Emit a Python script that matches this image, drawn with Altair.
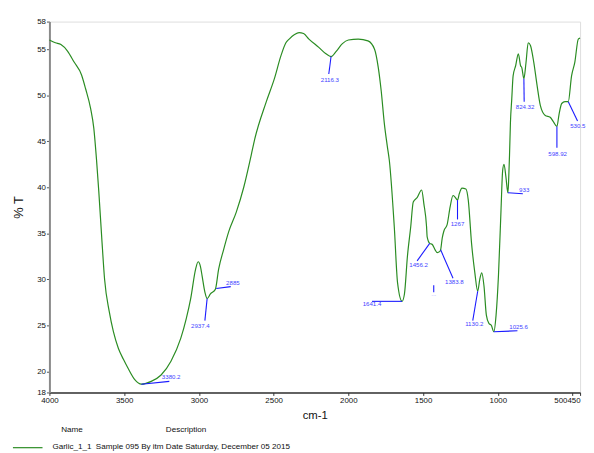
import altair as alt
import pandas as pd

# ---- spectrum (wavenumber cm-1, %T) ----
wavenumber = [4000, 3960, 3923, 3879, 3835, 3785, 3758, 3725, 3703, 3685, 3670, 3650, 3631, 3600,
              3572, 3539, 3505, 3473, 3429, 3385, 3319, 3253, 3187, 3121, 3085, 3055, 3022, 3005,
              2990, 2979, 2960, 2945, 2923, 2890, 2868, 2835, 2800, 2750, 2700, 2650, 2627, 2549,
              2495, 2451, 2418, 2396, 2360, 2330, 2300, 2264, 2198, 2150, 2116, 2080, 2040, 2000,
              1934, 1869, 1825, 1800, 1780, 1760, 1740, 1726, 1693, 1671, 1641, 1625, 1605, 1583,
              1566, 1539, 1510, 1495, 1477, 1473, 1456, 1440, 1420, 1405, 1390, 1383, 1372, 1360,
              1340, 1319, 1300, 1285, 1270, 1258, 1240, 1214, 1198, 1176, 1154, 1135, 1121, 1108,
              1093, 1077, 1060, 1044, 1027, 1012, 996, 979, 968, 959, 946, 933, 928, 922, 916, 907,
              898, 881, 863, 848, 840, 826, 812, 797, 782, 760, 738, 716, 683, 650, 628, 605, 591,
              573, 551, 529, 507, 485, 462, 450]
transmittance = [56.0, 55.7, 55.5, 54.8, 53.6, 52.2, 50.7, 48.6, 46.4, 43.0, 39.6, 34.5, 30.0, 26.5,
                 24.3, 22.5, 21.3, 20.3, 19.1, 18.6, 18.9, 19.6, 21.1, 23.6, 25.7, 27.9, 31.1, 31.9,
                 31.4, 30.4, 28.6, 27.9, 28.4, 28.9, 31.1, 33.2, 35.2, 37.3, 40.0, 43.5, 45.2, 49.3,
                 51.8, 54.3, 55.7, 56.1, 56.6, 56.8, 56.7, 56.1, 55.2, 54.5, 54.2, 54.8, 55.6, 56.0,
                 56.1, 55.9, 55.0, 53.0, 50.4, 47.0, 44.5, 42.9, 35.7, 29.6, 27.6, 28.4, 32.5, 35.7,
                 38.4, 38.9, 39.7, 38.2, 35.7, 34.6, 33.9, 33.8, 33.2, 32.9, 33.0, 33.2, 34.5, 35.3,
                 35.9, 37.9, 39.1, 38.9, 38.6, 39.3, 39.9, 39.8, 38.6, 33.9, 30.7, 28.7, 30.0, 30.7,
                 29.3, 26.1, 25.2, 25.0, 24.3, 26.1, 30.4, 37.5, 41.8, 42.5, 41.1, 39.4, 40.7, 43.5,
                 47.0, 49.6, 52.1, 53.2, 54.5, 53.2, 53.0, 51.8, 53.5, 55.7, 55.4, 53.6, 51.1, 48.9,
                 47.8, 47.6, 47.1, 46.6, 47.9, 49.1, 49.3, 49.3, 52.1, 53.6, 56.1, 56.2]

# ---- peak annotations ----
peak_text = ["3380.2", "2937.4", "2885", "2116.3", "1456.2", "1641.4", "1267", "1383.8",
             "1130.2", "1025.6", "933", "824.32", "598.92", "530.5", ""]
line_x1 = [3385, 2945, 2884, 2116, 1456, 1641, 1270, 1383, 1135, 1027, 933, 826, 605, 529, 1429]
line_y1 = [18.6, 27.9, 29.0, 54.2, 33.9, 27.6, 38.6, 33.2, 28.7, 24.3, 39.4, 51.8, 46.6, 49.3, 29.35]
line_x2 = [3198, 2960, 2787, 2131, 1540, 1842, 1270, 1300, 1168, 869, 833, 824, 605, 467, 1429]
line_y2 = [18.9, 25.5, 29.2, 52.3, 32.0, 27.6, 36.5, 30.1, 25.5, 24.4, 39.3, 49.3, 44.3, 47.2, 28.6]
label_x = [3248, 2990, 2818, 2124, 1530, 1842, 1270, 1291, 1158, 924, 858, 818, 600, 465, 1429]
label_y = [19.4, 24.9, 29.6, 51.7, 31.5, 27.3, 36.0, 29.7, 25.1, 24.8, 39.7, 48.75, 43.6, 46.6, 28.4]
label_align = ["left", "center", "left", "center", "center", "center", "center", "center",
               "center", "left", "left", "center", "center", "center", "center"]

x_ticks = [4000, 3500, 3000, 2500, 2000, 1500, 1000, 500, 450]
y_ticks = [17.7, 20, 25, 30, 35, 40, 45, 50, 55, 58]

spec = pd.DataFrame({"wn": wavenumber, "t": transmittance})
ann = pd.DataFrame({"text": peak_text, "x1": line_x1, "y1": line_y1, "x2": line_x2,
                    "y2": line_y2, "lx": label_x, "ly": label_y, "align": label_align})

FONT = "Liberation Sans, Arial, sans-serif"
GREEN = "#2a8c22"
BLUE = "#1a1aff"
LBLUE = "#3f3fff"

xscale = alt.Scale(domain=[4000, 450], nice=False, zero=False)
yscale = alt.Scale(domain=[17.7, 58], nice=False, zero=False)

curve = alt.Chart(spec).mark_line(color=GREEN, strokeWidth=1.2, interpolate="monotone").encode(
    x=alt.X("wn:Q", scale=xscale, title="cm-1",
            axis=alt.Axis(values=x_ticks, grid=False, labelOverlap=False, labelFlush=False,
                          labelExpr="datum.value == 500 ? '' : datum.value == 450 ? '500450' : format(datum.value, 'd')",
                          labelAlign={"expr": "datum.value == 450 ? 'right' : 'center'"},
                          labelFont=FONT, labelFontSize=8, labelColor="#111",
                          tickSize=3, tickColor="#333", domainColor="#333", domainWidth=1.5,
                          labelPadding=1, titleFont=FONT, titleFontSize=11.5,
                          titleFontWeight="normal", titleColor="#111", titlePadding=5)),
    y=alt.Y("t:Q", scale=yscale, title="% T",
            axis=alt.Axis(values=y_ticks, grid=False, labelOverlap=False, labelFlush=False,
                          labelExpr="datum.value < 19 ? '18' : format(datum.value, 'd')",
                          labelFont=FONT, labelFontSize=8, labelColor="#111",
                          tickSize=3, tickColor="#555", domainColor="#8a8a8a", domainWidth=2,
                          labelPadding=1, titleFont=FONT, titleFontSize=13,
                          titleFontWeight="normal", titleColor="#111", titlePadding=11)),
)

rules = alt.Chart(ann).mark_rule(color=BLUE, strokeWidth=1.1).encode(
    x=alt.X("x1:Q", scale=xscale), y=alt.Y("y1:Q", scale=yscale),
    x2="x2:Q", y2="y2:Q",
)

labels_c = alt.Chart(ann).transform_filter("datum.align == 'center'").mark_text(
    font=FONT, fontSize=6.2, color=LBLUE, align="center", baseline="middle").encode(
    x=alt.X("lx:Q", scale=xscale), y=alt.Y("ly:Q", scale=yscale), text="text:N")

labels_l = alt.Chart(ann).transform_filter("datum.align == 'left'").mark_text(
    font=FONT, fontSize=6.2, color=LBLUE, align="left", baseline="middle").encode(
    x=alt.X("lx:Q", scale=xscale), y=alt.Y("ly:Q", scale=yscale), text="text:N")

dots = alt.Chart(ann).transform_filter("datum.text == ''").mark_text(
    font=FONT, fontSize=6, color="#9a9aff", align="center", baseline="middle", text="...").encode(
    x=alt.X("lx:Q", scale=xscale), y=alt.Y("ly:Q", scale=yscale))

legend_df = pd.DataFrame({"k": [0]})
def ltext(txt, px, py, size=8.2, color="#111"):
    return alt.Chart(legend_df).mark_text(font=FONT, fontSize=size, color=color,
                                          align="left", baseline="middle").encode(
        x=alt.value(px), y=alt.value(py), text=alt.value(txt))

legend_line = alt.Chart(legend_df).mark_rule(color=GREEN, strokeWidth=1.2).encode(
    x=alt.value(-37), x2=alt.value(-7), y=alt.value(432))

chart = alt.layer(
    curve, rules, labels_c, labels_l, dots,
    ltext("Name", 12, 414.6),
    ltext("Description", 118, 414.6),
    legend_line,
    ltext("Garlic_1_1", 3, 431.5),
    ltext("Sample 095 By itm Date Saturday, December 05 2015", 47, 431.5),
).properties(
    width=538, height=376,
    autosize=alt.AutoSizeParams(type="none"),
    padding={"left": 42, "top": 10.7, "right": 6, "bottom": 58},
).configure_view(stroke=None).configure(background="white")

chart.save("out.html", embed_options={"renderer": "svg", "actions": False})
